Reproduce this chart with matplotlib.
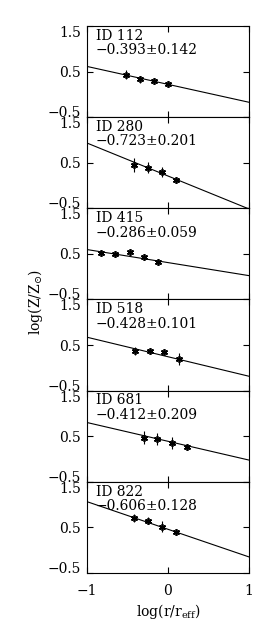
import numpy as np
import matplotlib
matplotlib.use("Agg")
import matplotlib.pyplot as plt

plt.rcParams['font.family'] = 'DejaVu Serif'
plt.rcParams['mathtext.fontset'] = 'dejavuserif'
plt.rcParams['font.size'] = 10

# galaxy ids, fitted gradients and their errors
ids = ['112', '280', '415', '518', '681', '822']
grad = [-0.393, -0.723, -0.286, -0.428, -0.412, -0.606]
grad_err = [0.142, 0.201, 0.059, 0.101, 0.209, 0.128]
zero_pt = [0.22, 0.21, 0.31, 0.245, 0.39, 0.46]

# data points, log(r/reff) vs log(Z/Zsun)
x_112 = [-0.52, -0.35, -0.17, 0.00]
y_112 = [0.43, 0.33, 0.30, 0.22]
e_112 = [0.10, 0.07, 0.03, 0.03]

x_280 = [-0.42, -0.25, -0.07, 0.10]
y_280 = [0.45, 0.39, 0.30, 0.12]
e_280 = [0.15, 0.12, 0.11, 0.04]

x_415 = [-0.83, -0.65, -0.47, -0.29, -0.12]
y_415 = [0.51, 0.49, 0.54, 0.43, 0.32]
e_415 = [0.03, 0.03, 0.04, 0.03, 0.03]

x_518 = [-0.40, -0.22, -0.05, 0.14]
y_518 = [0.37, 0.36, 0.34, 0.19]
e_518 = [0.08, 0.03, 0.06, 0.13]

x_681 = [-0.30, -0.13, 0.05, 0.23]
y_681 = [0.47, 0.44, 0.35, 0.27]
e_681 = [0.15, 0.13, 0.14, 0.07]

x_822 = [-0.42, -0.25, -0.07, 0.10]
y_822 = [0.70, 0.65, 0.52, 0.41]
e_822 = [0.09, 0.08, 0.13, 0.03]

xs = [x_112, x_280, x_415, x_518, x_681, x_822]
ys = [y_112, y_280, y_415, y_518, y_681, y_822]
es = [e_112, e_280, e_415, e_518, e_681, e_822]

fig = plt.figure(figsize=(2.75, 6.29), dpi=100)
left, right, bot, top = 0.316, 0.905, 0.089, 0.9587
h = (top - bot) / 6

xl = np.array([-1, 1])
for i in range(6):
    ax = fig.add_axes([left, top - (i + 1) * h, right - left, h])
    ax.errorbar(xs[i], ys[i], yerr=es[i], fmt='none', ecolor='k', elinewidth=0.8)
    ax.plot(xs[i], ys[i], ls='none', marker=(6, 2, 0), ms=5, mec='k', mew=1.2)
    ax.plot(xl, zero_pt[i] + grad[i] * xl, 'k-', lw=0.8)
    ax.set_xlim(-1, 1)
    ax.set_ylim(-0.5, 1.5)
    ax.set_xticks([-1, 0, 1])
    ax.set_yticks([-0.5, 0.5, 1.5])
    ax.set_yticklabels(['\u22120.5', '0.5', '1.5'])
    lab = ax.get_yticklabels()
    lab[0].set_va('baseline')
    lab[2].set_va('top')
    ax.tick_params(direction='in', top=True, right=True, length=4, width=0.8)
    ax.tick_params(axis='y', pad=4)
    ax.tick_params(axis='x', pad=8)
    for s in ax.spines.values():
        s.set_linewidth(0.8)
    if i < 5:
        ax.set_xticklabels([])
    else:
        ax.set_xticklabels(['\u22121', '0', '1'])
        ax.set_xlabel(r'log(r/r$_{\rm eff}$)', labelpad=3)
    ax.text(0.055, 0.97, 'ID %s\n\u2212%.3f\u00b1%.3f' % (ids[i], -grad[i], grad_err[i]),
            transform=ax.transAxes, va='top', ha='left', linespacing=1.05)

fig.text(0.13, 0.52, r'log(Z/Z$_{\odot}$)', rotation=90, va='center', ha='center')

fig.savefig('out.png', dpi=100)
